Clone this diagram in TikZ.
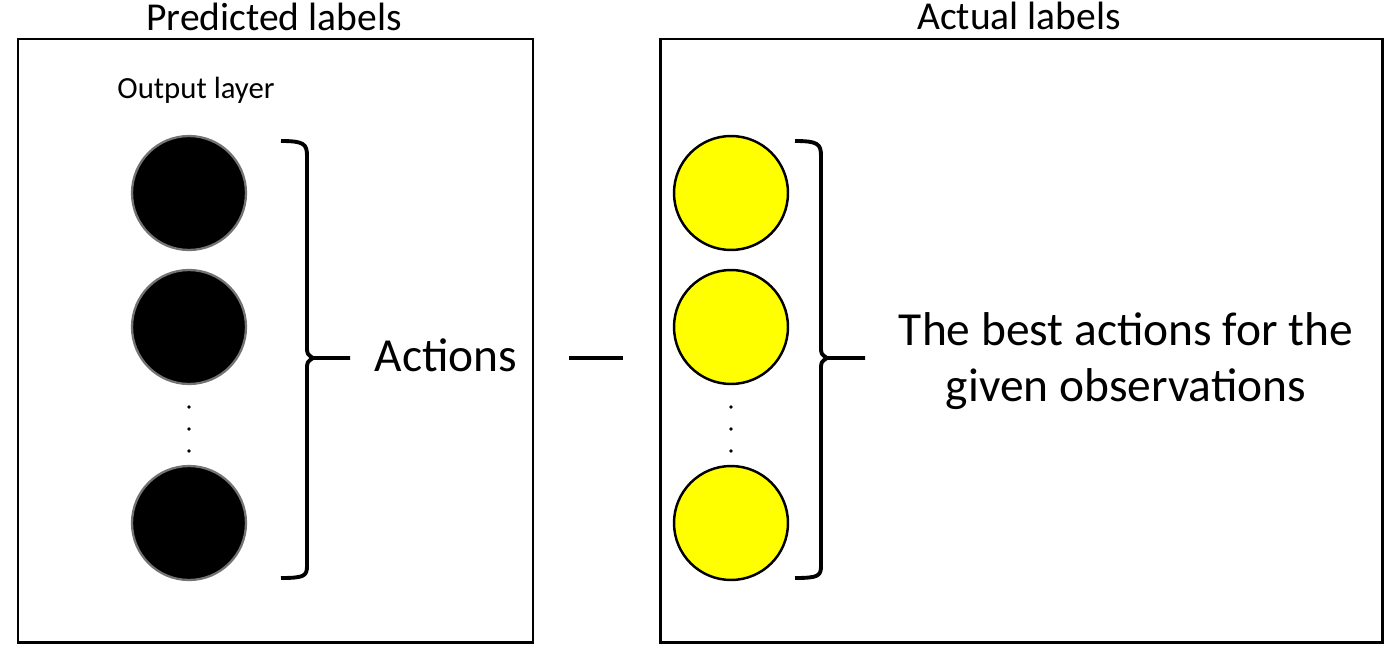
\documentclass[tikz,border=0pt]{standalone}
\usepackage{fontspec}
\setmainfont{Carlito}
\definecolor{ylw}{RGB}{255,255,0}
\tikzset{
  box/.style={draw, line width=1.7pt},
  outnode/.style={circle, draw=black!55, fill=black, line width=1.3pt, minimum size=2.28cm, inner sep=0pt},
  labnode/.style={circle, draw=black, fill=ylw, line width=1.4pt, minimum size=2.28cm, inner sep=0pt},
  dotnode/.style={circle, fill=black, minimum size=2.2pt, inner sep=0pt},
  brace/.style={line width=2.2pt, line join=round},
}
\begin{document}
\begin{tikzpicture}[x=0.02cm, y=-0.02cm]
        \useasboundingbox (0,0) rectangle (1400,656);

        \draw[box] (18, 39) rectangle (533, 642);
        \draw[box] (660, 39) rectangle (1382, 642);

        \node[font=\fontsize{22.5}{26}\selectfont] (pred) at (274, 17) {Predicted labels};
        \node[font=\fontsize{22.5}{26}\selectfont] (act) at (1019, 16) {Actual labels};
        \node[font=\fontsize{17.5}{20}\selectfont] (outl) at (196, 90) {Output layer};

        \node[outnode] (o1) at (189, 193) {};
        \node[outnode] (o2) at (189, 327) {};
        \node[outnode] (o3) at (189, 523) {};
        \node[dotnode] (od1) at (189, 407) {};
        \node[dotnode] (od2) at (189, 429) {};
        \node[dotnode] (od3) at (189, 451) {};

        \node[labnode] (y1) at (731, 193) {};
        \node[labnode] (y2) at (731, 327) {};
        \node[labnode] (y3) at (731, 523) {};
        \node[dotnode] (yd1) at (731, 407) {};
        \node[dotnode] (yd2) at (731, 429) {};
        \node[dotnode] (yd3) at (731, 451) {};

        % braces
        \draw[brace] (281, 141) .. controls (304, 141) and (307, 144) .. (307, 156) -- (307, 346)
            .. controls (307, 354) .. (313, 358) -- (350, 358);
        \draw[brace] (313, 358) .. controls (307, 362) .. (307, 370) -- (307, 566)
            .. controls (307, 576) and (304, 578) .. (281, 578);
        \draw[brace] (795, 141) .. controls (818, 141) and (821, 144) .. (821, 156) -- (821, 346)
            .. controls (821, 354) .. (827, 358) -- (865, 358);
        \draw[brace] (827, 358) .. controls (821, 362) .. (821, 370) -- (821, 566)
            .. controls (821, 576) and (818, 578) .. (795, 578);

        \node[font=\fontsize{27}{31}\selectfont] (acts) at (446, 355) {Actions};
        \draw[line width=2.2pt] (569, 358) -- (623, 358);
        \node[font=\fontsize{27}{32}\selectfont, align=center] (best) at (1126, 361)
            {The best actions for the\\given observations};

\end{tikzpicture}
\end{document}
